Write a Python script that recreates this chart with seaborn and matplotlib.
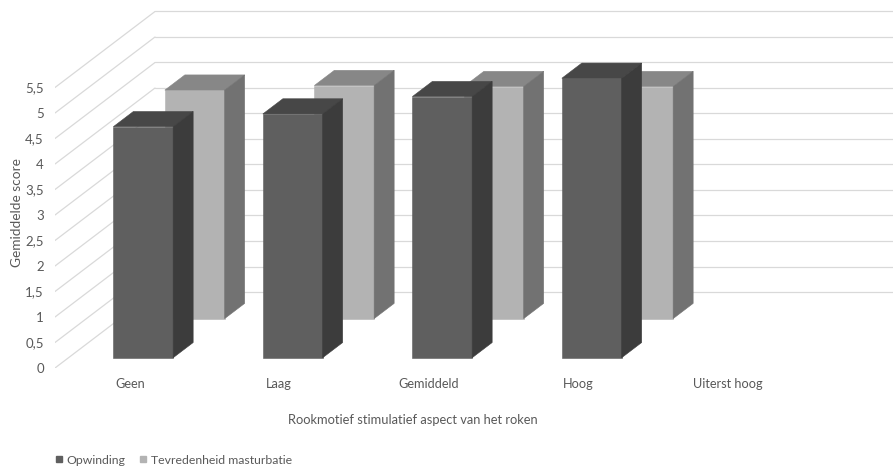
import numpy as np
import pandas as pd
import matplotlib
matplotlib.use("Agg")
import matplotlib.pyplot as plt
from matplotlib.patches import Polygon
from matplotlib.lines import Line2D
import seaborn as sns

# Mean scores per level of the smoking motive
categories = ["Geen", "Laag", "Gemiddeld", "Hoog", "Uiterst hoog"]
opwinding = [4.53, 4.78, 5.12, 5.48, np.nan]
tevredenheid = [4.48, 4.57, 4.55, 4.55, np.nan]
series_names = ["Opwinding", "Tevredenheid masturbatie"]
y_ticks = [0, 0.5, 1, 1.5, 2, 2.5, 3, 3.5, 4, 4.5, 5, 5.5]

sns.set_theme(style="white")
plt.rcParams["font.family"] = ["Lato", "DejaVu Sans"]

TEXT = "#595959"
GRID = "#d9d9d9"

W, H, DPI = 893, 469, 100
fig = plt.figure(figsize=(W / DPI, H / DPI), dpi=DPI)

# axes placed in pixel terms: front plane value 0 at y=368, category pitch 149.5 px
left_px, right_px, base_px = 55, 893, 368
px_per_cat, px_per_val = 149.5, 51.0
ax = fig.add_axes([left_px / W, (H - base_px) / H,
                   (right_px - left_px) / W, base_px / H])
xmax = -0.5 + (right_px - left_px) / px_per_cat
ymax = base_px / px_per_val

# oblique depth vector (full depth of the box) in data units
DX = 100 / px_per_cat
DY = 76 / px_per_val
BAR_DEPTH = 0.2          # fraction of full depth taken by one bar
BAR_W = 0.4

# walls: side wall diagonals + back wall horizontals
for v in y_ticks:
    ax.plot([-0.5, -0.5 + DX], [v, v + DY], color=GRID, lw=0.9, zorder=0)
    ax.plot([-0.5 + DX, xmax + 1], [v + DY, v + DY], color=GRID, lw=0.9, zorder=0)

series = [
    # name, values, depth position, front, side, top colours, zorder
    (series_names[1], tevredenheid, 0.65, "#b3b3b3", "#727272", "#878787", 2),
    (series_names[0], opwinding, 0.135, "#5f5f5f", "#3c3c3c", "#474747", 4),
]

for name, vals, t, c_front, c_side, c_top, z in series:
    n_before = len(ax.patches)
    sns.barplot(x=categories, y=vals, order=categories, color=c_front,
                width=BAR_W, saturation=1, ax=ax, zorder=z)
    new = ax.patches[n_before:]
    ox, oy = t * DX, t * DY
    ddx, ddy = BAR_DEPTH * DX, BAR_DEPTH * DY
    for p in new:
        h = p.get_height()
        if not np.isfinite(h) or h == 0:
            p.set_visible(False)
            continue
        x0 = p.get_x() + ox
        w = p.get_width()
        p.set_x(x0)
        p.set_y(oy)
        p.set_facecolor(c_front)
        p.set_edgecolor(c_front)
        p.set_linewidth(0.4)
        p.set_zorder(z)
        y0, y1 = oy, oy + h
        top = Polygon([(x0, y1), (x0 + w, y1), (x0 + w + ddx, y1 + ddy),
                       (x0 + ddx, y1 + ddy)], closed=True,
                      facecolor=c_top, edgecolor=c_top, lw=0.4, zorder=z)
        side = Polygon([(x0 + w, y0), (x0 + w + ddx, y0 + ddy),
                        (x0 + w + ddx, y1 + ddy), (x0 + w, y1)], closed=True,
                       facecolor=c_side, edgecolor=c_side, lw=0.4, zorder=z)
        ax.add_patch(top)
        ax.add_patch(side)

ax.set_xlim(-0.5, xmax)
ax.set_ylim(0, ymax)
for s in ax.spines.values():
    s.set_visible(False)

ax.set_yticks(y_ticks)
ax.set_yticklabels([("%g" % v).replace(".", ",") for v in y_ticks])
ax.set_xticks(range(len(categories)))
ax.set_xticklabels(categories)
ax.tick_params(axis="y", length=0, pad=8, labelsize=9.5, labelcolor=TEXT)
ax.tick_params(axis="x", length=0, pad=7, labelsize=9.2, labelcolor=TEXT)
ax.grid(False)

ax.set_xlabel("Rookmotief stimulatief aspect van het roken", fontsize=9.3,
              color=TEXT, va="center")
ax.xaxis.set_label_coords((413 - left_px) / (right_px - left_px),
                          (base_px - 420) / base_px)
ax.set_ylabel("Gemiddelde score", fontsize=9.8, color=TEXT, va="center")
ax.yaxis.set_label_coords((17 - left_px) / (right_px - left_px),
                          (base_px - 213) / base_px)

handles = [Line2D([], [], marker="s", ls="none", markersize=5,
                  markerfacecolor="#5f5f5f", markeredgecolor="#5f5f5f"),
           Line2D([], [], marker="s", ls="none", markersize=5,
                  markerfacecolor="#b3b3b3", markeredgecolor="#b3b3b3")]
fig.legend(handles, series_names, loc="center left",
           bbox_to_anchor=(55 / W, (H - 460) / H), ncol=2, frameon=False,
           fontsize=8.8, labelcolor=TEXT, handlelength=0.6, handletextpad=0.3,
           columnspacing=1.2, borderpad=0, borderaxespad=0)

fig.savefig("out.png", dpi=DPI)
